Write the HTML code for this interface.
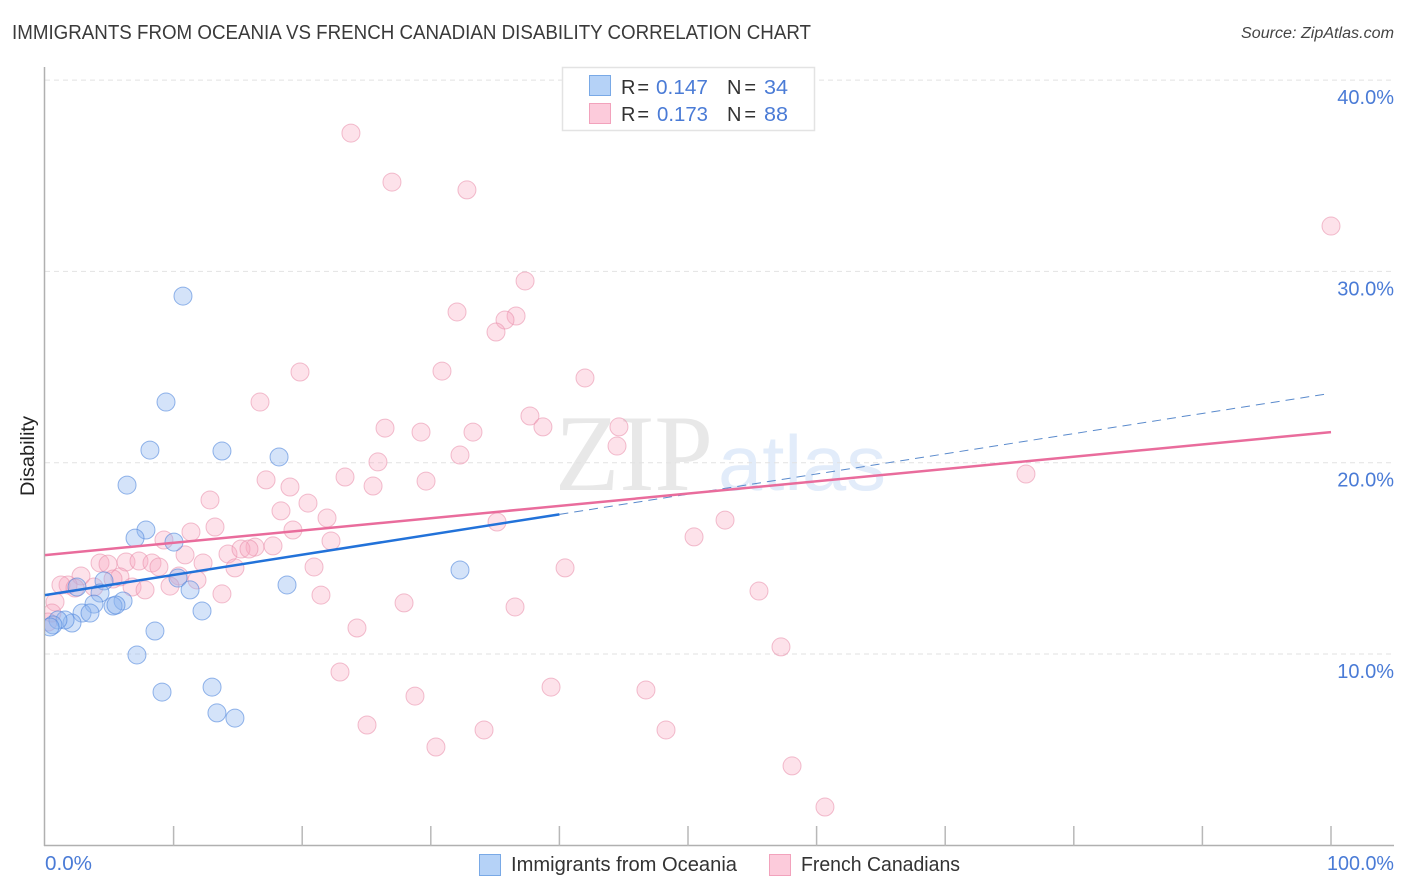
<!DOCTYPE html>
<html lang="en">
<head>
<meta charset="utf-8">
<title>Immigrants from Oceania vs French Canadian Disability Correlation Chart</title>
<style>
html,body{margin:0;padding:0;background:#fff;}
svg{display:block;font-family:"Liberation Sans",sans-serif;}
</style>
</head>
<body>
<svg id="chart" width="1406" height="892" viewBox="0 0 1406 892" xmlns="http://www.w3.org/2000/svg">
  <defs>
    <clipPath id="plot-clip"><rect x="45" y="60" width="1349" height="785"/></clipPath>
  </defs>
  <rect x="0" y="0" width="1406" height="892" fill="#ffffff"/>
  <text x="12" y="39" font-size="20" fill="#3a3a3a" textLength="799" lengthAdjust="spacingAndGlyphs">IMMIGRANTS FROM OCEANIA VS FRENCH CANADIAN DISABILITY CORRELATION CHART</text>
  <text x="1241" y="38" font-size="15.5" font-style="italic" fill="#444444" textLength="153" lengthAdjust="spacingAndGlyphs">Source: ZipAtlas.com</text>

  <g>
    <text x="555" y="490" font-family="'Liberation Serif',serif" font-size="109" fill="#e8e8e8" textLength="158" lengthAdjust="spacingAndGlyphs">ZIP</text>
    <text x="718" y="490" font-size="78" fill="#e2ecfa" textLength="168" lengthAdjust="spacingAndGlyphs">atlas</text>
  </g>

  <g id="grid"></g>
  <g id="axes"></g>
  <g id="points" clip-path="url(#plot-clip)"></g>
  <g id="trends"></g>
  <g id="ylabels"></g>

  <text transform="translate(34,456) rotate(-90)" font-size="19" fill="#222222" text-anchor="middle" textLength="80" lengthAdjust="spacingAndGlyphs">Disability</text>
  <text x="45" y="870" font-size="20" fill="#4a7bd6" textLength="47" lengthAdjust="spacingAndGlyphs">0.0%</text>
  <text x="1327" y="870" font-size="20" fill="#4a7bd6" textLength="67" lengthAdjust="spacingAndGlyphs">100.0%</text>

  <g>
    <rect x="562.5" y="67.5" width="252" height="63" fill="#ffffff" stroke="#e3e3e3" stroke-width="1.5"/>
    <rect x="589.5" y="75.5" width="21" height="20" fill="#b5d2f7" stroke="#79a9e6" stroke-width="1"/>
    <rect x="589.5" y="103.5" width="21" height="20" fill="#fccbdb" stroke="#f2a2bc" stroke-width="1"/>
    <text x="621" y="94" font-size="20" fill="#333333" textLength="28">R =</text>
    <text x="656" y="94" font-size="20" fill="#4a7bd6" textLength="52" lengthAdjust="spacingAndGlyphs">0.147</text>
    <text x="727" y="94" font-size="20" fill="#333333" textLength="29">N =</text>
    <text x="764" y="94" font-size="20" fill="#4a7bd6" textLength="24" lengthAdjust="spacingAndGlyphs">34</text>
    <text x="621" y="121" font-size="20" fill="#333333" textLength="28">R =</text>
    <text x="657" y="121" font-size="20" fill="#4a7bd6" textLength="51" lengthAdjust="spacingAndGlyphs">0.173</text>
    <text x="727" y="121" font-size="20" fill="#333333" textLength="29">N =</text>
    <text x="764" y="121" font-size="20" fill="#4a7bd6" textLength="24" lengthAdjust="spacingAndGlyphs">88</text>
  </g>

  <g>
    <rect x="479.5" y="854.5" width="21" height="21" fill="#b5d2f7" stroke="#79a9e6" stroke-width="1"/>
    <text x="511" y="871" font-size="20" fill="#333333" textLength="226" lengthAdjust="spacingAndGlyphs">Immigrants from Oceania</text>
    <rect x="769.5" y="854.5" width="21" height="21" fill="#fccbdb" stroke="#f2a2bc" stroke-width="1"/>
    <text x="801" y="871" font-size="20" fill="#333333" textLength="159" lengthAdjust="spacingAndGlyphs">French Canadians</text>
  </g>
</svg>

<script>
// Chart data: [x percent, y percent]
const oceaniaX = [10.73,9.41,8.16,13.76,18.20,6.38,7.85,7.00,10.03,32.27,10.34,18.82,4.59,11.28,4.28,2.49,6.07,3.81,5.29,5.52,12.21,2.88,3.50,2.10,1.56,1.01,0.62,0.39,8.55,7.15,9.10,12.99,13.37,14.77];
const oceaniaY = [28.71,23.17,20.66,20.61,20.30,18.83,16.48,16.06,15.85,14.39,13.97,13.61,13.82,13.35,13.19,13.50,12.77,12.61,12.51,12.56,12.25,12.14,12.14,11.62,11.78,11.78,11.52,11.41,11.20,9.95,8.01,8.27,6.92,6.65];

const frenchX = [23.79,26.98,32.81,100,37.33,32.04,36.63,35.77,35.07,41.99,30.87,19.83,16.72,37.71,38.72,26.44,29.24,33.28,44.63,44.48,32.27,25.89,23.33,17.19,29.63,25.51,19.05,76.28,12.83,20.45,18.35,21.93,35.15,13.22,19.28,11.35,52.88,50.47,22.24,9.25,10.89,16.33,17.73,14.23,15.24,15.86,12.29,20.92,14.77,40.44,4.28,4.90,6.30,7.31,8.32,8.86,5.83,5.29,11.82,10.42,2.80,1.79,1.24,3.81,2.33,6.77,7.78,9.72,13.76,21.46,27.92,36.55,55.52,24.26,57.23,22.94,39.35,46.73,28.77,25.04,34.14,48.29,30.40,58.09,60.65,0.78,0.54,0.23];
const frenchY = [37.23,34.67,34.26,32.37,29.50,27.88,27.67,27.46,26.83,24.43,24.79,24.74,23.17,22.44,21.87,21.81,21.60,21.60,21.87,20.87,20.40,20.04,19.25,19.10,19.04,18.78,18.73,19.41,18.05,17.89,17.48,17.11,16.90,16.64,16.48,16.38,17.00,16.12,15.91,15.96,15.18,15.59,15.65,15.23,15.49,15.49,14.76,14.55,14.50,14.50,14.76,14.70,14.81,14.86,14.76,14.55,14.03,13.92,13.87,14.08,14.08,13.61,13.61,13.50,13.45,13.50,13.35,13.55,13.14,13.08,12.67,12.46,13.29,11.36,10.37,9.06,8.27,8.12,7.80,6.29,6.03,6.03,5.14,4.15,2.00,12.72,12.14,11.67];

const yTicks = [10, 20, 30, 40];
const yTickLabels = ["10.0%", "20.0%", "30.0%", "40.0%"];
const xTicks = [0, 10, 20, 30, 40, 50, 60, 70, 80, 90, 100];

// Trend lines: y percent at x = 0 and x = 100
const oceaniaTrend = [13.08, 23.63];
const frenchTrend = [15.17, 21.60];
const oceaniaSolidEnd = 40;
const oceaniaDashEnd = 99.77;

// Axis functions
function xScale(v) { return 45 + v * 12.86; }
function yScale(v) { return 654 - (v - 10) * 19.13; }
function trendAt(t, x) { return t[0] + (t[1] - t[0]) * x / 100; }

const NS = 'http://www.w3.org/2000/svg';
function mk(tag, parent, attrs) {
  const el = document.createElementNS(NS, tag);
  for (const k in attrs) el.setAttribute(k, attrs[k]);
  parent.appendChild(el);
  return el;
}

const grid = document.getElementById('grid');
const axes = document.getElementById('axes');
const points = document.getElementById('points');
const trends = document.getElementById('trends');
const ylabels = document.getElementById('ylabels');

yTicks.forEach(function (t, i) {
  const line = mk('line', grid, {x1: 45, x2: 1394, y1: yScale(t), y2: yScale(t), stroke: '#e2e2e2', 'stroke-width': 1, 'stroke-dasharray': '5 4'});
  
  
  const label = mk('text', ylabels, {x: 1394, y: yScale(t) + 24, 'font-size': 20, fill: '#4a7bd6', 'text-anchor': 'end'});
  label.textContent = yTickLabels[i];
  
  
});

const yAxis = mk('line', axes, {x1: 44.5, x2: 44.5, y1: 67, y2: 846, stroke: '#b0b0b0', 'stroke-width': 1.5});


const xAxis = mk('line', axes, {x1: 44, x2: 1394, y1: 845.5, y2: 845.5, stroke: '#b0b0b0', 'stroke-width': 1.5});


xTicks.forEach(function (t) {
  if (t === 0) return;
  const tick = mk('line', axes, {x1: xScale(t), x2: xScale(t), y1: 826, y2: 846, stroke: '#b8b8b8', 'stroke-width': 1.5});
  
  
});

frenchX.forEach(function (x, i) {
  const c = mk('circle', points, {cx: xScale(x), cy: yScale(frenchY[i]), r: 9, fill: '#f8a8c0', 'fill-opacity': 0.33, stroke: '#e88aa8', 'stroke-opacity': 0.55, 'stroke-width': 1});
  
  
});
oceaniaX.forEach(function (x, i) {
  const c = mk('circle', points, {cx: xScale(x), cy: yScale(oceaniaY[i]), r: 9, fill: '#8fb6f0', 'fill-opacity': 0.38, stroke: '#4f86dc', 'stroke-opacity': 0.6, 'stroke-width': 1});
  
  
});

const blueDash = mk('line', trends, {x1: xScale(oceaniaSolidEnd), y1: yScale(trendAt(oceaniaTrend, oceaniaSolidEnd)), x2: xScale(oceaniaDashEnd), y2: yScale(trendAt(oceaniaTrend, oceaniaDashEnd)), stroke: '#5a8acc', 'stroke-width': 1, 'stroke-dasharray': '9 6'});


const blueSolid = mk('line', trends, {x1: xScale(0), y1: yScale(trendAt(oceaniaTrend, 0)), x2: xScale(oceaniaSolidEnd), y2: yScale(trendAt(oceaniaTrend, oceaniaSolidEnd)), stroke: '#2272d9', 'stroke-width': 2.5});


const pinkLine = mk('line', trends, {x1: xScale(0), y1: yScale(trendAt(frenchTrend, 0)), x2: xScale(100), y2: yScale(trendAt(frenchTrend, 100)), stroke: '#e96c9c', 'stroke-width': 2.5});


</script>
</body>
</html>
